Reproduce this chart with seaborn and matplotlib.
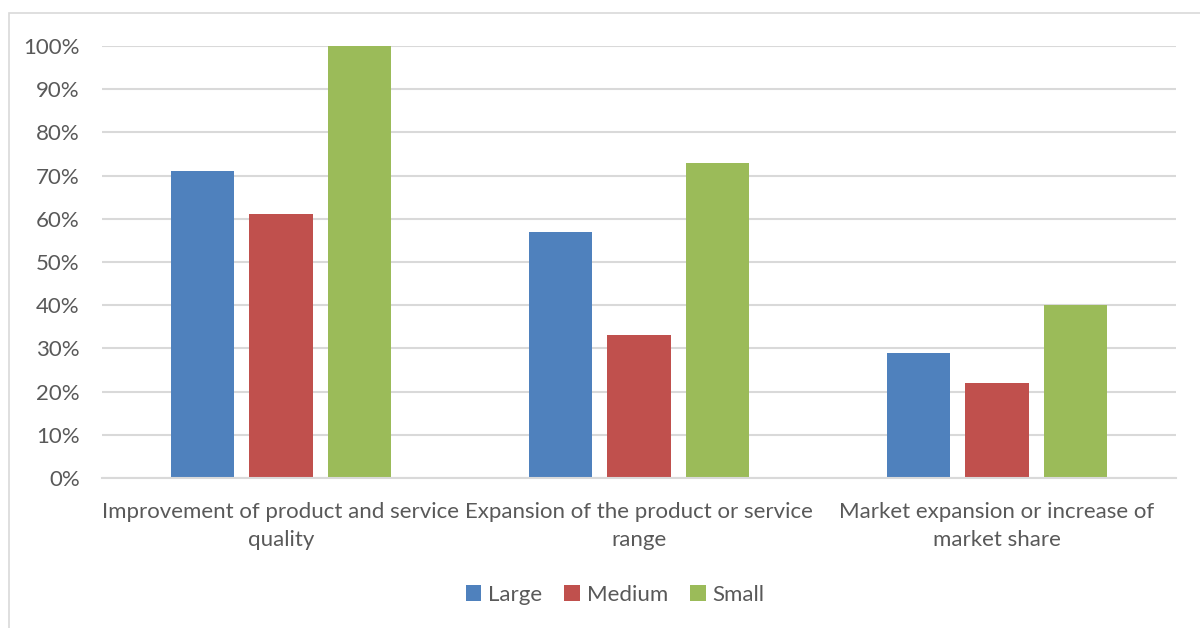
import matplotlib
matplotlib.use("Agg")
import matplotlib.pyplot as plt
import seaborn as sns
import pandas as pd
from matplotlib.patches import Rectangle
from matplotlib.ticker import PercentFormatter, MultipleLocator

categories = ["Improvement of product and service\nquality",
              "Expansion of the product or service\nrange",
              "Market expansion or increase of\nmarket share"]
series = ["Large", "Medium", "Small"]
large = [71, 57, 29]
medium = [61, 33, 22]
small = [100, 73, 40]
colors = ["#4F81BD", "#C0504D", "#9BBB59"]

rows = []
for s, vals in zip(series, [large, medium, small]):
    for c, v in zip(categories, vals):
        rows.append({"category": c, "series": s, "value": v})
df = pd.DataFrame(rows)

sns.set_theme(style="white")
plt.rcParams["font.family"] = ["Lato", "DejaVu Sans"]
text_color = "#595959"
grid_color = "#D9D9D9"
fs = 16

fig = plt.figure(figsize=(12, 6.28), dpi=100)
ax = fig.add_axes([102/1200, 1 - 478/628, (1176-102)/1200, (478-46)/628])

sns.barplot(data=df, x="category", y="value", hue="series", order=categories,
            hue_order=series, palette=colors, width=0.66, gap=0.2,
            saturation=1, linewidth=0, ax=ax, legend=True)

ax.set_ylim(0, 100)
ax.set_xlim(-0.5, 2.5)
ax.yaxis.set_major_locator(MultipleLocator(10))
ax.yaxis.set_major_formatter(PercentFormatter(decimals=0))
ax.grid(axis="y", color=grid_color, linewidth=1.5)
ax.set_axisbelow(True)
for sp in ["left", "right", "top"]:
    ax.spines[sp].set_visible(False)
ax.spines["bottom"].set_color(grid_color)
ax.spines["bottom"].set_linewidth(1.5)
ax.set_xlabel("")
ax.set_ylabel("")
ax.tick_params(axis="y", length=0, pad=16, labelsize=fs, labelcolor=text_color)
ax.tick_params(axis="x", length=0, pad=17, labelsize=fs, labelcolor=text_color)
for lbl in ax.get_xticklabels():
    lbl.set_linespacing(1.55)

leg = ax.legend(loc="center", bbox_to_anchor=(615/1200, 1 - 595/628),
                bbox_transform=fig.transFigure, ncol=3, frameon=False,
                fontsize=fs, handlelength=0.7, handleheight=0.7,
                handletextpad=0.3, columnspacing=1.0)
for t in leg.get_texts():
    t.set_color(text_color)

fig.patches.append(Rectangle((9/1200, -0.1), 1.2, 1 - 13/628 + 0.1,
                             transform=fig.transFigure, fill=False,
                             edgecolor=grid_color, linewidth=1.2))

fig.savefig("out.png", dpi=100, facecolor="white")
